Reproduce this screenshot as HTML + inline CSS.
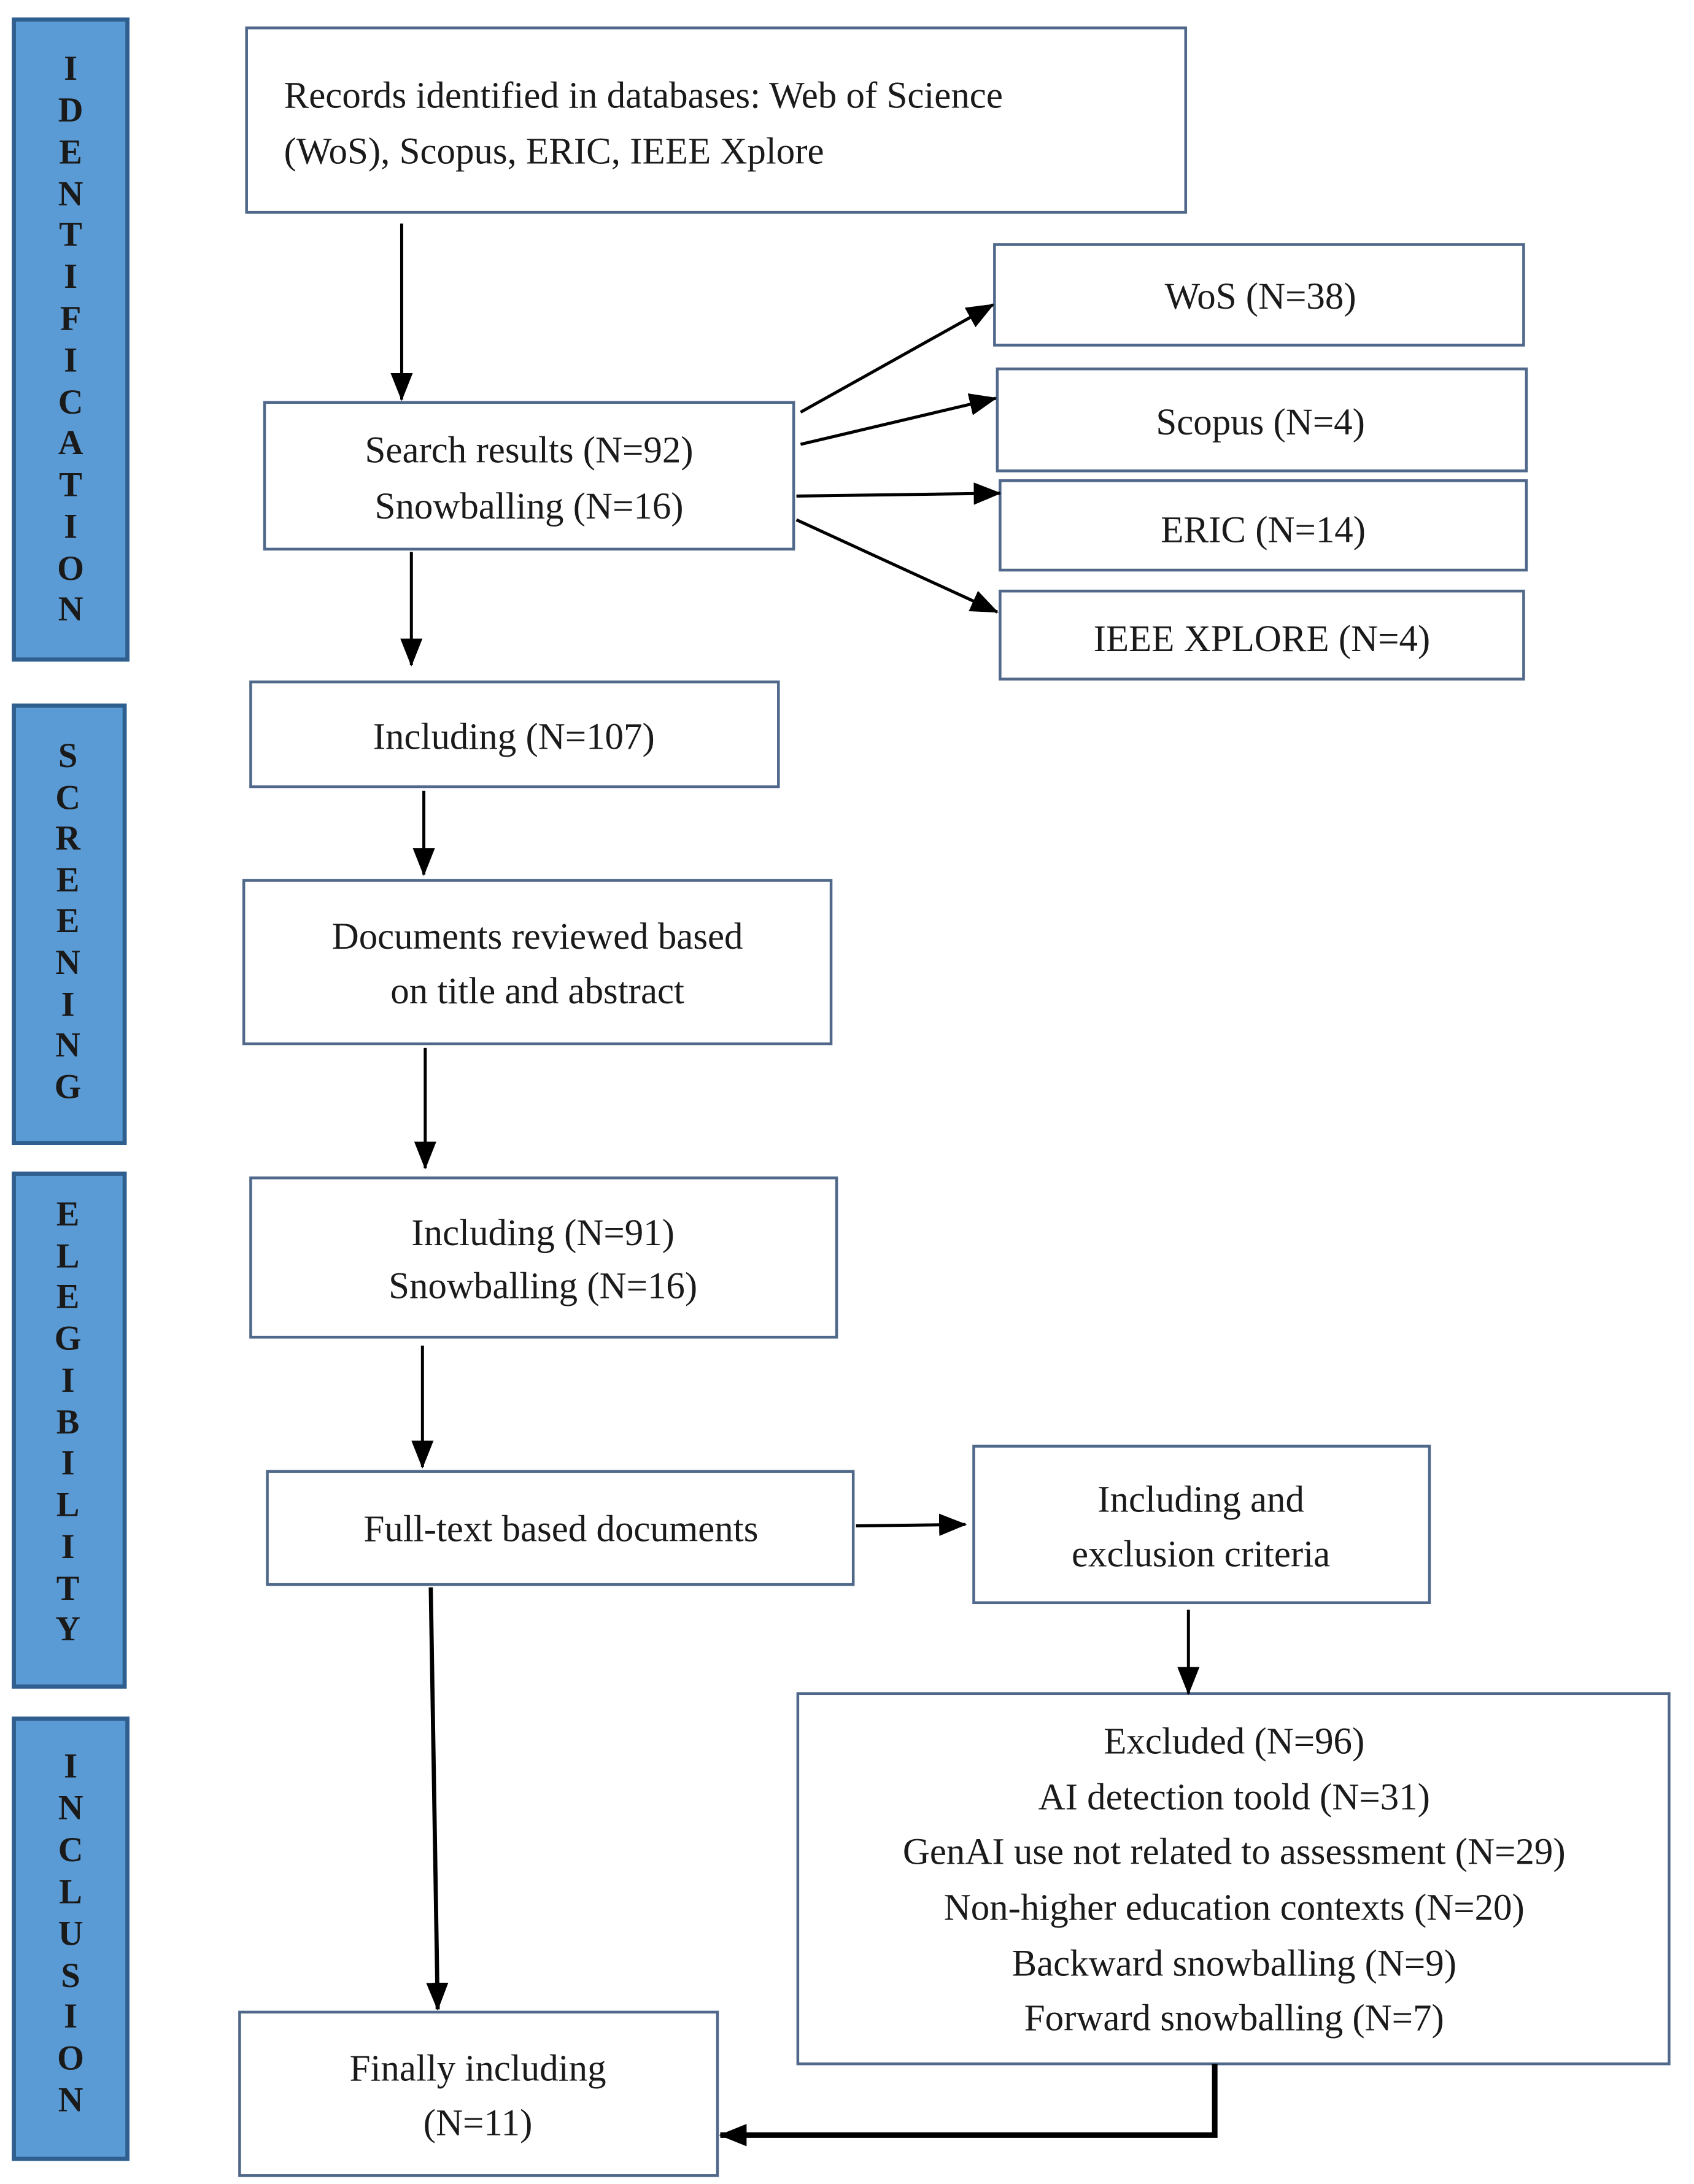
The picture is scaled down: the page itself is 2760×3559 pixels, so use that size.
<!DOCTYPE html>
<html><head><meta charset="utf-8"><style>
html,body{margin:0;padding:0;background:#fff;}
svg{display:block;}
text{font-family:"Liberation Serif",serif;fill:#1a1a1a;}
.b{fill:#fff;stroke:#50688a;stroke-width:2;}
.s{fill:#5b9bd5;stroke:#2f5f8f;stroke-width:3;}
.l{font-size:27px;text-anchor:middle;}
.v{font-size:25px;fill:#fff;text-anchor:middle;font-family:"Liberation Serif",serif;font-weight:bold;}
.a{stroke:#000;stroke-width:2.2;fill:none;}
</style></head><body>
<svg width="2760" height="3559" viewBox="0 0 1223 1563" preserveAspectRatio="none" xmlns="http://www.w3.org/2000/svg">
<defs>
<marker id="M" markerWidth="20" markerHeight="16" refX="19" refY="8" orient="auto" markerUnits="userSpaceOnUse" viewBox="0 0 20 16"><path d="M0,0 L20,8 L0,16 z" fill="#000"/></marker></defs>

<rect class="s" x="10" y="14" width="82" height="458"/>
<rect class="s" x="10" y="505" width="80" height="313"/>
<rect class="s" x="10" y="840" width="80" height="367"/>
<rect class="s" x="10" y="1230" width="82" height="315"/>
<g class="v">
<text x="51" y="57">I</text><text x="51" y="87">D</text><text x="51" y="117">E</text><text x="51" y="147">N</text><text x="51" y="176">T</text><text x="51" y="206">I</text><text x="51" y="236">F</text><text x="51" y="266">I</text><text x="51" y="296">C</text><text x="51" y="325">A</text><text x="51" y="355">T</text><text x="51" y="385">I</text><text x="51" y="415">O</text><text x="51" y="444">N</text>
<text x="49" y="549">S</text><text x="49" y="579">C</text><text x="49" y="608">R</text><text x="49" y="638">E</text><text x="49" y="667">E</text><text x="49" y="697">N</text><text x="49" y="727">I</text><text x="49" y="756">N</text><text x="49" y="786">G</text>
<text x="49" y="877">E</text><text x="49" y="907">L</text><text x="49" y="936">E</text><text x="49" y="966">G</text><text x="49" y="996">I</text><text x="49" y="1026">B</text><text x="49" y="1055">I</text><text x="49" y="1085">L</text><text x="49" y="1115">I</text><text x="49" y="1145">T</text><text x="49" y="1174">Y</text>
<text x="51" y="1272">I</text><text x="51" y="1302">N</text><text x="51" y="1332">C</text><text x="51" y="1362">L</text><text x="51" y="1392">U</text><text x="51" y="1422">S</text><text x="51" y="1451">I</text><text x="51" y="1481">O</text><text x="51" y="1511">N</text>
</g>

<rect class="b" x="178" y="20" width="678" height="132"/>
<text x="205" y="77" style="font-size:27px">Records identified in databases: Web of Science</text>
<text x="205" y="117" style="font-size:27px">(WoS), Scopus, ERIC, IEEE Xplore</text>

<rect class="b" x="191" y="288" width="382" height="105"/>
<text class="l" x="382" y="331">Search results (N=92)</text>
<text class="l" x="382" y="371">Snowballing (N=16)</text>

<rect class="b" x="718" y="175" width="382" height="72"/><text class="l" x="910" y="221">WoS (N=38)</text>
<rect class="b" x="720" y="264" width="382" height="73"/><text class="l" x="910" y="311">Scopus (N=4)</text>
<rect class="b" x="722" y="344" width="380" height="64"/><text class="l" x="912" y="388">ERIC (N=14)</text>
<rect class="b" x="722" y="423" width="378" height="63"/><text class="l" x="911" y="466">IEEE XPLORE (N=4)</text>

<rect class="b" x="181" y="488" width="381" height="75"/><text class="l" x="371" y="536">Including (N=107)</text>

<rect class="b" x="176" y="630" width="424" height="117"/>
<text class="l" x="388" y="679">Documents reviewed based</text>
<text class="l" x="388" y="718">on title and abstract</text>

<rect class="b" x="181" y="843" width="423" height="114"/>
<text class="l" x="392" y="891">Including (N=91)</text>
<text class="l" x="392" y="929">Snowballing (N=16)</text>

<rect class="b" x="193" y="1053" width="423" height="81"/><text class="l" x="405" y="1103">Full-text based documents</text>

<rect class="b" x="703" y="1035" width="329" height="112"/>
<text class="l" x="867" y="1082">Including and</text>
<text class="l" x="867" y="1121">exclusion criteria</text>

<rect class="b" x="576" y="1212" width="629" height="265"/>
<text class="l" x="891" y="1255">Excluded (N=96)</text>
<text class="l" x="891" y="1295">AI detection toold (N=31)</text>
<text class="l" x="891" y="1334">GenAI use not related to assessment (N=29)</text>
<text class="l" x="891" y="1374">Non-higher education contexts (N=20)</text>
<text class="l" x="891" y="1414">Backward snowballing (N=9)</text>
<text class="l" x="891" y="1453">Forward snowballing (N=7)</text>

<rect class="b" x="173" y="1440" width="345" height="117"/>
<text class="l" x="345" y="1489">Finally including</text>
<text class="l" x="345" y="1528">(N=11)</text>

<g class="a">
<line x1="290" y1="160" x2="290" y2="286" marker-end="url(#M)"/>
<line x1="578" y1="295" x2="717" y2="218" marker-end="url(#M)"/>
<line x1="578" y1="318" x2="719" y2="285" marker-end="url(#M)"/>
<line x1="575" y1="355" x2="722" y2="353" marker-end="url(#M)"/>
<line x1="575" y1="372" x2="720" y2="438" marker-end="url(#M)"/>
<line x1="297" y1="395" x2="297" y2="476" marker-end="url(#M)"/>
<line x1="306" y1="566" x2="306" y2="626" marker-end="url(#M)"/>
<line x1="307" y1="750" x2="307" y2="836" marker-end="url(#M)"/>
<line x1="305" y1="963" x2="305" y2="1050" marker-end="url(#M)"/>
<line x1="618" y1="1092" x2="697" y2="1091" marker-end="url(#M)"/>
<line x1="858" y1="1152" x2="858" y2="1212" marker-end="url(#M)"/>
<line x1="311" y1="1136" x2="316" y2="1438" marker-end="url(#M)" style="stroke-width:3"/>
<polyline points="877,1477 877,1528 520,1528" marker-end="url(#M)" style="stroke-width:4"/>
</g>
</svg>
</body></html>
